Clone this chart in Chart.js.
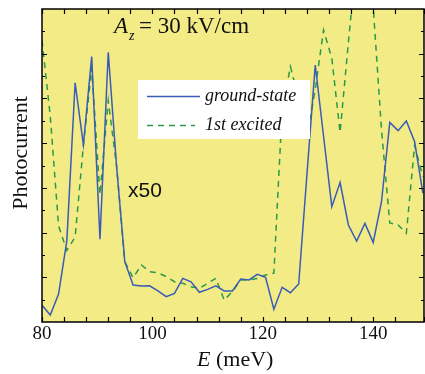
<!DOCTYPE html>
<html>
<head>
<meta charset="utf-8">
<script src="https://cdn.jsdelivr.net/npm/chart.js@4"></script>
<style>
  html, body { margin: 0; padding: 0; background: #ffffff; }
  #wrap { width: 425px; height: 374px; }
</style>
</head>
<body>
<div id="wrap"><canvas id="myChart" width="425" height="374"></canvas></div>
<script>
// photon energy (meV)
const energies = [80, 81.5, 83, 84.5, 86, 87.5, 89, 90.5, 92, 93.5,
  95, 96.5, 98, 99.5, 101, 102.5, 104, 105.5, 107, 108.5,
  110, 111.5, 113, 114.5, 116, 117.5, 119, 120.5, 122, 123.5,
  125, 126.5, 128, 129.5, 131, 132.5, 134, 135.5, 137, 138.5,
  140, 141.5, 143, 144.5, 146, 147.5, 149]

// photocurrent, arbitrary units
const groundState = [0.75, 0.31, 1.25, 3.64, 10.7, 7.92, 11.87, 3.7, 12.06, 7.0,
  2.7, 1.65, 1.61, 1.62, 1.39, 1.13, 1.28, 1.95, 1.8, 1.33,
  1.46, 1.62, 1.39, 1.39, 1.92, 1.88, 2.13, 2.0, 0.57, 1.55,
  1.31, 1.7, 6.62, 11.49, 8.32, 5.16, 6.24, 4.34, 3.62, 4.41,
  3.56, 5.38, 8.93, 8.56, 8.99, 8.06, 5.76]

const firstExcited = [12.6, 9.2, 4.3, 3.2, 3.8, 7.9, 11.36, 5.7, 9.9, 7.0,
  2.7, 1.98, 2.55, 2.25, 2.2, 2.03, 1.8, 1.73, 1.58, 1.51,
  1.73, 1.95, 0.98, 1.36, 1.88, 1.88, 1.95, 2.1, 2.18, 9.48,
  11.42, 10.0, 8.3, 10.4, 13.06, 11.8, 8.48, 12.5, 16.3, 16.5,
  14.1, 8.6, 4.43, 4.34, 3.97, 7.9, 6.5]

const xTickLabels = [80, 100, 120, 140]
const seriesNames = ['ground-state', '1st excited']

const serif = "'Liberation Serif', 'Times New Roman', serif"

function toPoints(ys){
    return ys.map((y, i) => ({x: energies[i], y: y}))
}

// yellow plot area, box, inward ticks, legend and labels
const decor = {
    id: 'decor',
    beforeDatasetsDraw(chart){
        const {ctx, chartArea: a} = chart
        ctx.save()
        ctx.fillStyle = '#f3ec86'
        ctx.fillRect(a.left, a.top, a.right - a.left, a.bottom - a.top)
        ctx.restore()
    },
    afterDraw(chart){
        const {ctx, chartArea: a} = chart
        const xs = chart.scales.x
        const ys = chart.scales.y
        ctx.save()
        ctx.strokeStyle = '#000'
        ctx.lineWidth = 1.2
        ctx.beginPath()
        xs.ticks.forEach(t => {
            const px = Math.round(xs.getPixelForValue(t.value)) + 0.5
            ctx.moveTo(px, a.bottom); ctx.lineTo(px, a.bottom - 5)
            ctx.moveTo(px, a.top); ctx.lineTo(px, a.top + 5)
        })
        ys.ticks.forEach(t => {
            if (t.value <= ys.min || t.value >= ys.max) return
            const len = t.value % 2 === 0 ? 5 : 3
            const py = Math.round(ys.getPixelForValue(t.value)) + 0.5
            ctx.moveTo(a.left, py); ctx.lineTo(a.left + len, py)
            ctx.moveTo(a.right, py); ctx.lineTo(a.right - len, py)
        })
        ctx.stroke()
        ctx.lineWidth = 1.5
        ctx.strokeRect(a.left, a.top, a.right - a.left, a.bottom - a.top)

        // legend box
        ctx.fillStyle = '#ffffff'
        ctx.fillRect(138, 80, 172, 59)
        ctx.lineWidth = 1.5
        ctx.strokeStyle = chart.data.datasets[0].borderColor
        ctx.beginPath(); ctx.moveTo(147, 96.5); ctx.lineTo(200, 96.5); ctx.stroke()
        ctx.strokeStyle = chart.data.datasets[1].borderColor
        ctx.setLineDash([6, 5])
        ctx.beginPath(); ctx.moveTo(147, 125.5); ctx.lineTo(195, 125.5); ctx.stroke()
        ctx.setLineDash([])
        ctx.fillStyle = '#111'
        ctx.textBaseline = 'alphabetic'
        ctx.font = 'italic 18px ' + serif
        ctx.fillText(seriesNames[0], 205, 101)
        ctx.fillText(seriesNames[1], 205, 130)

        // field label
        ctx.font = 'italic 23px ' + serif
        ctx.fillText('A', 114, 33)
        ctx.font = 'italic 14px ' + serif
        ctx.fillText('z', 129, 40)
        ctx.font = '23px ' + serif
        ctx.fillText('= 30 kV/cm', 139, 33)

        ctx.font = "21px 'Liberation Sans', Arial, sans-serif"
        ctx.fillText('x50', 128, 197)

        // axis titles
        ctx.font = 'italic 22px ' + serif
        ctx.fillText('E', 197, 366)
        const ew = ctx.measureText('E').width
        ctx.font = '22px ' + serif
        ctx.fillText(' (meV)', 197 + ew, 366)

        ctx.translate(27, 153)
        ctx.rotate(-Math.PI / 2)
        ctx.textAlign = 'center'
        ctx.fillText('Photocurrent', 0, 0)
        ctx.restore()
    }
}

const ctx = document.getElementById('myChart').getContext('2d')
const myChart = new Chart(ctx, {
    type: 'line',
    data: {
        datasets: [{
            label: seriesNames[0],
            data: toPoints(groundState),
            borderColor: '#3a5bb8',
            borderWidth: 1.5,
            pointRadius: 0,
            tension: 0
        }, {
            label: seriesNames[1],
            data: toPoints(firstExcited),
            borderColor: '#2a9a48',
            borderWidth: 1.5,
            borderDash: [6, 5],
            pointRadius: 0,
            tension: 0
        }]
    },
    options: {
        responsive: false,
        animation: false,
        devicePixelRatio: 1,
        layout: {padding: {top: 9, right: 1, left: 0, bottom: 0}},
        plugins: {
            legend: {display: false},
            tooltip: {enabled: false}
        },
        scales: {
            x: {
                type: 'linear',
                min: 80,
                max: 149.2,
                afterFit: s => { s.height = 52 },
                grid: {display: false, drawTicks: false},
                border: {display: false},
                ticks: {
                    stepSize: 4,
                    autoSkip: false,
                    maxRotation: 0,
                    padding: 1,
                    color: '#111',
                    font: {family: serif, size: 19},
                    callback: v => xTickLabels.includes(v) ? String(v) : ''
                }
            },
            y: {
                min: 0,
                max: 14,
                afterFit: s => { s.width = 42 },
                grid: {display: false, drawTicks: false},
                border: {display: false},
                ticks: {stepSize: 1, display: false}
            }
        }
    },
    plugins: [decor]
})
</script>
</body>
</html>
